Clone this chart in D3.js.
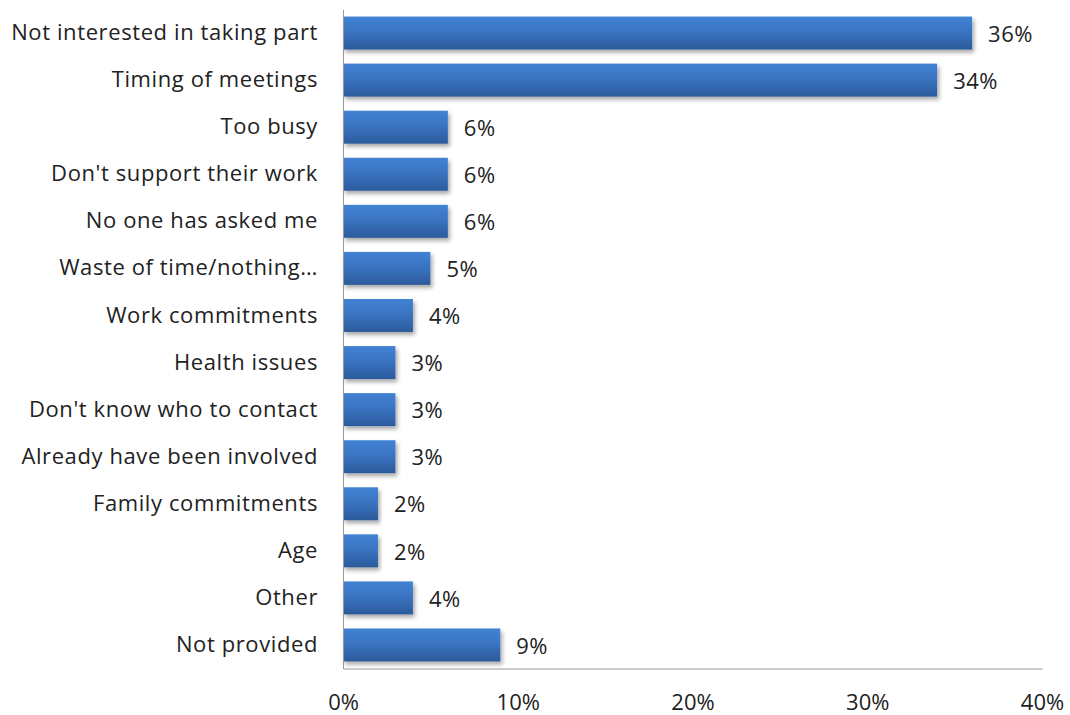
<!DOCTYPE html>
<html>
<head>
<meta charset="utf-8">
<script src="https://cdn.jsdelivr.net/npm/d3@7"></script>
<style>
  body { margin: 0; background: #fff; }
  text { font-family: "Open Sans", "Noto Sans", sans-serif; fill: #222; }
</style>
</head>
<body>
<svg id="chart"></svg>
<script>
// Reasons for not taking part
const categories = [
    "Not interested in taking part", "Timing of meetings", "Too busy",
    "Don't support their work", "No one has asked me", "Waste of time/nothing\u2026",
    "Work commitments", "Health issues", "Don't know who to contact",
    "Already have been involved", "Family commitments", "Age", "Other", "Not provided"
];
const values = [36, 34, 6, 6, 6, 5, 4, 3, 3, 3, 2, 2, 4, 9];
const tickValues = [0, 10, 20, 30, 40];

const width = 1070, height = 715;
const margin = { top: 9.5, right: 28, bottom: 46.5, left: 343 };
const fontSize = "22px";

const svg = d3.select("#chart").attr("width", width).attr("height", height);

const x = d3.scaleLinear().domain([0, 40]).range([margin.left, width - margin.right]);
const y = d3.scaleBand().domain(categories)
    .range([margin.top, height - margin.bottom])
    .paddingInner(0.3).paddingOuter(0.15);

// bar gradient + drop shadow
const defs = svg.append("defs");
const grad = defs.append("linearGradient").attr("id", "barGrad")
    .attr("x1", 0).attr("y1", 0).attr("x2", 0).attr("y2", 1);
grad.append("stop").attr("offset", "0%").attr("stop-color", "#4282d3");
grad.append("stop").attr("offset", "45%").attr("stop-color", "#3a74c2");
grad.append("stop").attr("offset", "100%").attr("stop-color", "#2b5a9b");

const shadow = defs.append("filter").attr("id", "shadow")
    .attr("x", "-5%").attr("y", "-20%").attr("width", "115%").attr("height", "160%");
shadow.append("feGaussianBlur").attr("in", "SourceAlpha").attr("stdDeviation", 2);
shadow.append("feOffset").attr("dx", 2).attr("dy", 3).attr("result", "off");
shadow.append("feComponentTransfer").append("feFuncA").attr("type", "linear").attr("slope", 0.35);
const merge = shadow.append("feMerge");
merge.append("feMergeNode");
merge.append("feMergeNode").attr("in", "SourceGraphic");

// bars
svg.append("g").selectAll("rect")
    .data(values)
    .join("rect")
    .attr("x", x(0))
    .attr("y", (d, i) => y(categories[i]))
    .attr("width", d => x(d) - x(0))
    .attr("height", y.bandwidth())
    .attr("fill", "url(#barGrad)")
    .attr("filter", "url(#shadow)");

// value labels
svg.append("g").selectAll("text")
    .data(values)
    .join("text")
    .attr("x", d => x(d) + 16)
    .attr("y", (d, i) => y(categories[i]) + y.bandwidth() / 2 + 1)
    .attr("dy", "0.35em")
    .attr("font-size", fontSize)
    .attr("letter-spacing", "0.5px")
    .text(d => d + "%");

// y axis (category labels)
const yAxis = svg.append("g")
    .attr("transform", `translate(${margin.left},0)`)
    .call(d3.axisLeft(y).tickSize(0).tickPadding(25));
yAxis.select(".domain").attr("stroke", "#999").attr("stroke-width", 1);
yAxis.selectAll("text").attr("font-size", fontSize).attr("fill", "#222")
    .attr("letter-spacing", "0.6px")
    .style("font-family", "'Open Sans', sans-serif");

// x axis
const xAxis = svg.append("g")
    .attr("transform", `translate(0,${height - margin.bottom})`)
    .call(d3.axisBottom(x).tickValues(tickValues).tickSize(0).tickPadding(26)
        .tickFormat(d => d + "%"));
xAxis.select(".domain").attr("stroke", "#999").attr("stroke-width", 1);
xAxis.selectAll("text").attr("font-size", fontSize).attr("fill", "#222")
    .style("font-family", "'Open Sans', sans-serif");
</script>
</body>
</html>
